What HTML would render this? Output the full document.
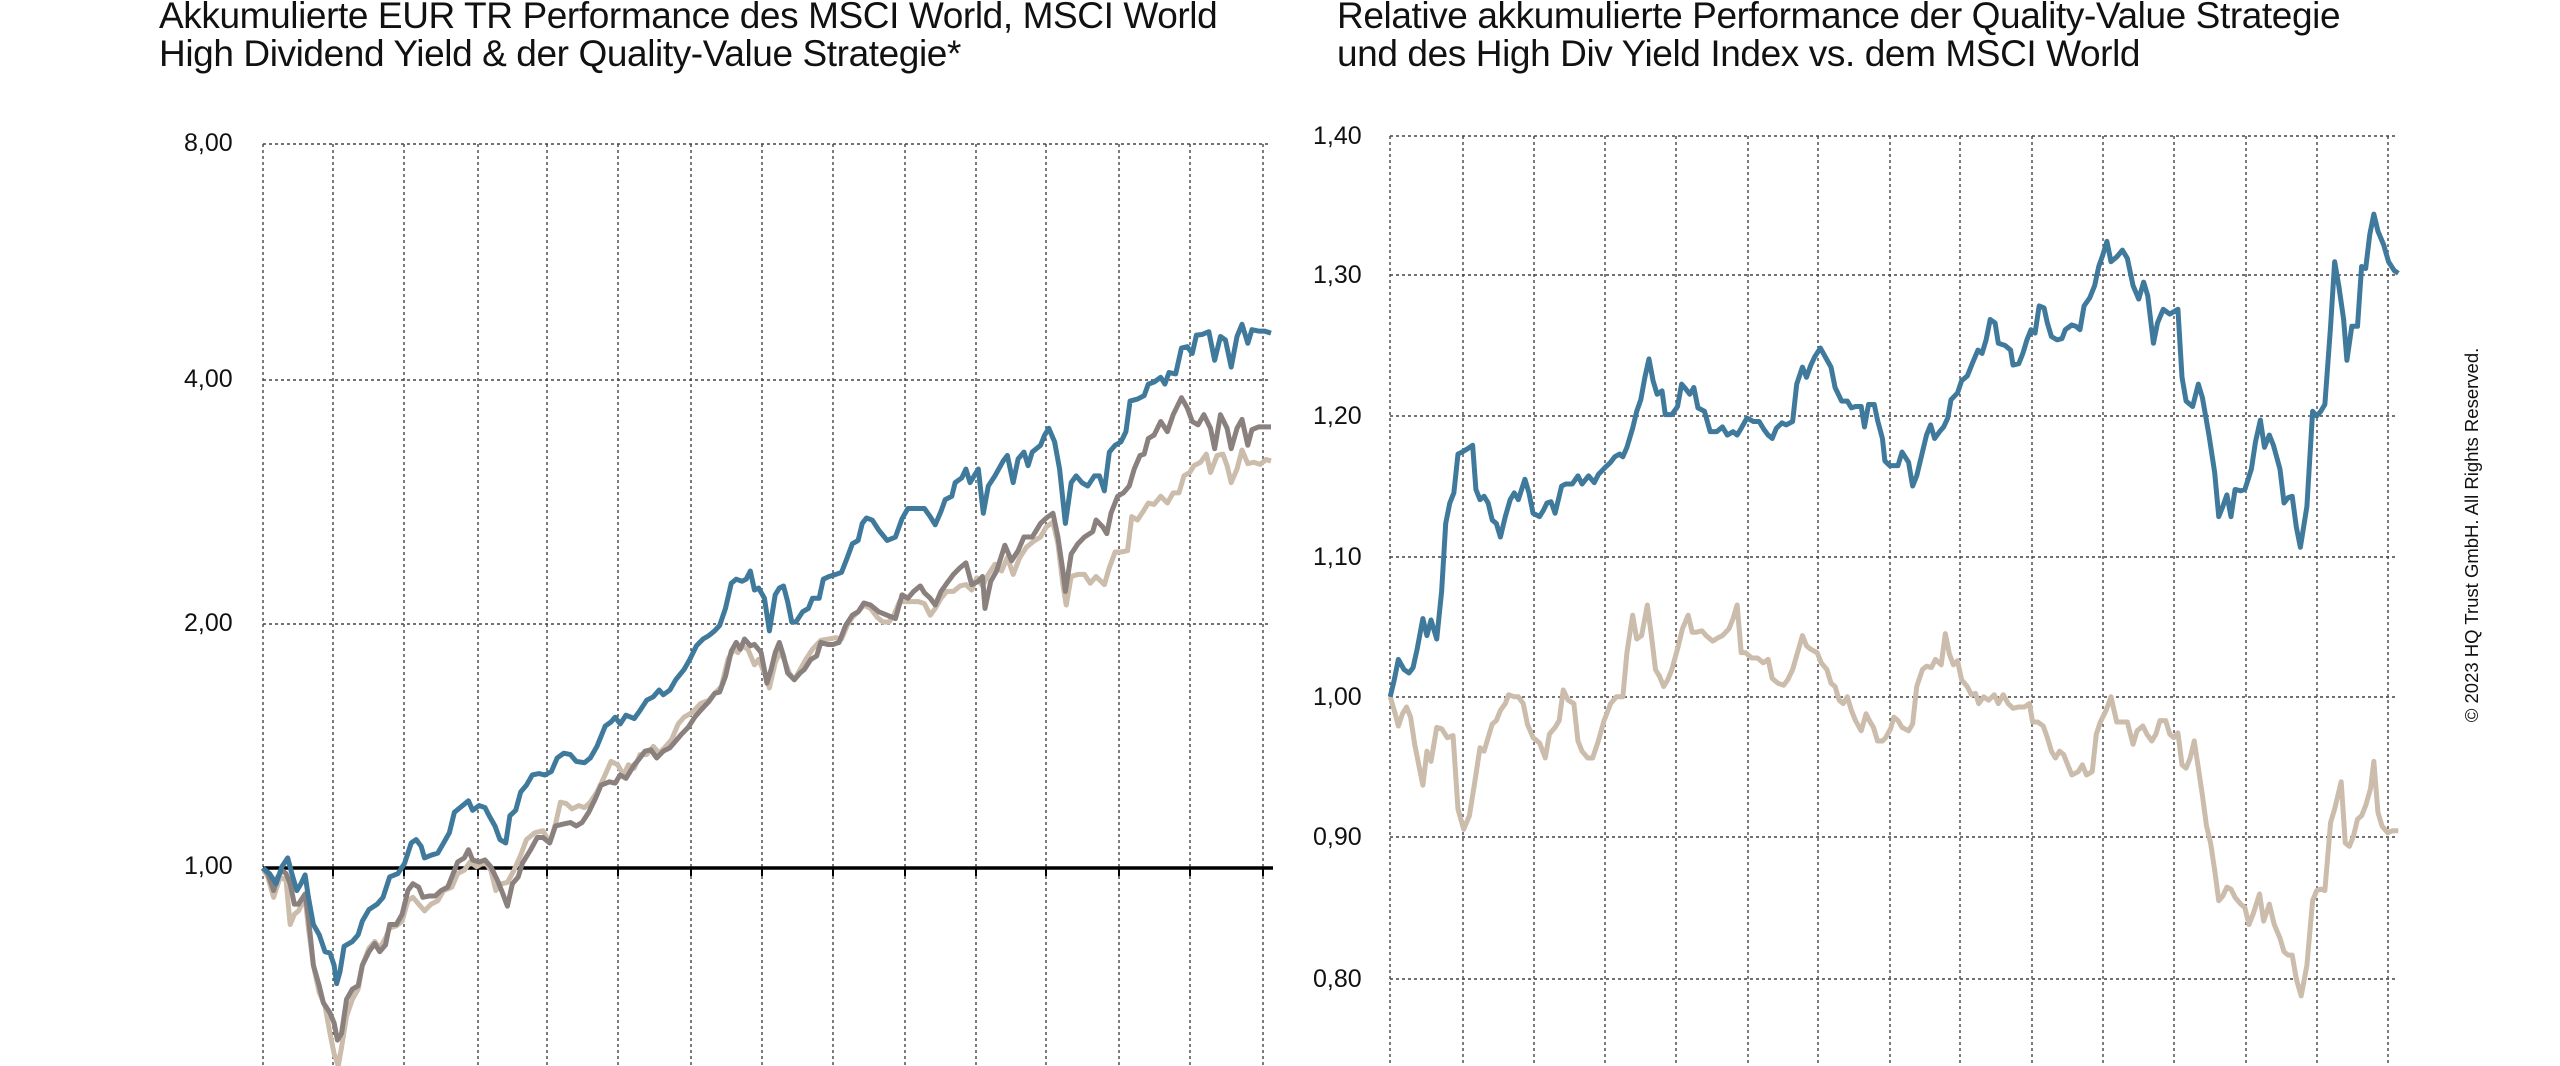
<!DOCTYPE html>
<html><head><meta charset="utf-8"><style>
html,body{margin:0;padding:0;background:#fff;}
body{width:2560px;height:1066px;overflow:hidden;position:relative;font-family:"Liberation Sans",Arial,sans-serif;}
.t{position:absolute;font-size:37px;line-height:38px;color:#111;letter-spacing:-0.4px;}
.l{position:absolute;font-size:25px;color:#111;}
</style></head><body>
<div class="t" style="left:159px;top:-3px;">Akkumulierte EUR TR Performance des MSCI World, MSCI World<br>High Dividend Yield &amp; der Quality-Value Strategie*</div>
<div class="t" style="left:1337px;top:-3px;">Relative akkumulierte Performance der Quality-Value Strategie<br>und des High Div Yield Index vs. dem MSCI World</div>
<div class="l" style="left:184px;top:129px;">8,00</div>
<div class="l" style="left:184px;top:365px;">4,00</div>
<div class="l" style="left:184px;top:609px;">2,00</div>
<div class="l" style="left:184px;top:852px;">1,00</div>
<div class="l" style="left:1313px;top:122px;">1,40</div>
<div class="l" style="left:1313px;top:261px;">1,30</div>
<div class="l" style="left:1313px;top:402px;">1,20</div>
<div class="l" style="left:1313px;top:543px;">1,10</div>
<div class="l" style="left:1313px;top:683px;">1,00</div>
<div class="l" style="left:1313px;top:823px;">0,90</div>
<div class="l" style="left:1313px;top:965px;">0,80</div>
<div style="position:absolute;left:2472px;top:535px;width:0;height:0;">
<div style="position:absolute;transform:translate(-50%,-50%) rotate(-90deg);white-space:nowrap;font-size:18.5px;color:#111;">© 2023 HQ Trust GmbH. All Rights Reserved.</div></div>
<svg width="2560" height="1066" style="position:absolute;left:0;top:0;">
<g stroke="#444" stroke-width="1.4" stroke-dasharray="3,3" fill="none">
<path d="M263,144H1271M263,380H1271M263,624H1271"/>
<path d="M263,144V1066M333,144V1066M404,144V1066M478,144V1066M547,144V1066M618,144V1066M691,144V1066M762,144V1066M833,144V1066M905,144V1066M976,144V1066M1046,144V1066M1119,144V1066M1190,144V1066M1263,144V1066"/>
<path d="M1390,136H2398M1390,275H2398M1390,416H2398M1390,557H2398M1390,697H2398M1390,837H2398M1390,979H2398"/>
<path d="M1390,136V1066M1463,136V1066M1534,136V1066M1605,136V1066M1676,136V1066M1748,136V1066M1818,136V1066M1890,136V1066M1960,136V1066M2032,136V1066M2103,136V1066M2174,136V1066M2246,136V1066M2317,136V1066M2388,136V1066"/>
</g>
<path d="M263,868H1273" stroke="#000" stroke-width="3.5"/>
<g stroke="#000" stroke-width="2"><path d="M333,868v8M404,868v8M478,868v8M547,868v8M618,868v8M691,868v8M762,868v8M833,868v8M905,868v8M976,868v8M1046,868v8M1119,868v8M1190,868v8M1263,868v8"/></g>
<g transform="scale(0.8291,0.6798)" fill="none" stroke-width="5" stroke-linejoin="round">
<polyline vector-effect="non-scaling-stroke" stroke="#cbbcab" points="317,1277 323,1290 330,1320 338,1290 345,1295 350,1360 355,1345 360,1340 368,1320 372,1365 378,1420 385,1460 392,1480 398,1520 403,1550 408,1568 412,1540 418,1495 425,1470 432,1455 437,1420 445,1395 452,1385 458,1395 465,1380 470,1365 478,1362 485,1355 492,1325 498,1320 505,1330 512,1340 520,1330 528,1325 535,1310 545,1305 552,1285 560,1280 567,1268 575,1275 585,1268 592,1280 598,1310 605,1300 612,1298 620,1280 628,1258 635,1235 645,1225 655,1222 663,1240 670,1212 676,1180 683,1182 690,1190 698,1185 705,1188 712,1180 720,1165 728,1145 737,1120 745,1125 752,1140 758,1125 765,1130 772,1110 780,1110 788,1098 795,1108 803,1098 810,1088 818,1065 825,1055 835,1048 845,1035 855,1030 862,1020 870,1010 878,970 885,955 890,960 895,950 902,955 910,978 915,970 922,990 928,1012 935,975 940,960 945,968 952,990 958,1000 965,985 972,970 980,955 990,942 1000,940 1008,938 1015,940 1022,920 1028,908 1035,900 1042,890 1050,895 1058,908 1065,915 1072,915 1078,905 1085,885 1092,885 1100,885 1108,885 1115,888 1122,905 1128,895 1135,880 1142,870 1150,870 1158,862 1165,860 1172,868 1178,850 1185,862 1192,845 1200,830 1208,840 1215,820 1222,845 1230,820 1238,805 1248,795 1255,790 1262,775 1270,768 1276,800 1282,860 1286,890 1292,848 1300,845 1308,845 1315,858 1322,848 1332,860 1338,835 1345,812 1352,812 1360,810 1365,760 1372,765 1380,750 1385,740 1392,742 1400,730 1408,740 1415,725 1422,725 1428,700 1435,695 1440,685 1448,680 1455,668 1460,695 1468,670 1475,668 1480,685 1485,710 1492,690 1498,662 1505,682 1512,680 1520,683 1527,676 1533,678"/>
<polyline vector-effect="non-scaling-stroke" stroke="#8a807e" points="317,1277 323,1285 330,1310 335,1290 340,1280 345,1285 350,1300 355,1330 360,1330 368,1315 372,1350 378,1420 385,1450 390,1475 398,1490 403,1505 407,1530 412,1520 418,1470 425,1455 432,1450 437,1420 445,1400 452,1388 458,1400 465,1390 470,1360 478,1360 485,1345 492,1310 498,1300 505,1305 510,1320 518,1318 525,1318 532,1310 540,1305 545,1290 552,1268 560,1262 565,1250 570,1265 578,1268 585,1265 592,1275 600,1295 605,1310 612,1333 618,1300 625,1290 630,1270 640,1250 648,1232 655,1232 663,1240 670,1215 680,1212 688,1210 695,1215 702,1210 710,1195 718,1175 725,1155 735,1150 742,1152 748,1140 755,1145 765,1125 770,1118 778,1105 785,1103 792,1115 800,1105 808,1100 815,1090 822,1080 830,1070 838,1055 845,1045 855,1032 862,1020 868,1018 875,995 882,958 888,945 893,955 898,940 905,950 910,948 918,960 925,1005 930,985 935,960 940,945 945,965 950,990 958,1000 965,990 970,985 978,970 985,965 990,945 998,948 1005,948 1012,945 1020,920 1028,905 1035,900 1042,887 1050,890 1060,900 1070,905 1080,910 1088,875 1095,880 1102,870 1110,862 1115,872 1122,880 1128,890 1135,870 1142,858 1150,845 1158,835 1165,828 1172,860 1180,855 1185,848 1188,895 1195,855 1202,840 1212,802 1220,825 1228,810 1235,790 1245,790 1255,770 1262,762 1270,755 1276,790 1282,840 1285,870 1292,815 1300,800 1308,790 1318,782 1322,765 1330,775 1335,785 1340,755 1348,730 1355,725 1362,715 1368,690 1375,670 1380,668 1385,645 1392,640 1400,620 1408,635 1415,610 1425,585 1432,600 1438,620 1445,625 1452,610 1460,630 1465,660 1472,610 1480,630 1485,660 1492,630 1498,617 1505,655 1510,632 1518,628 1525,628 1533,628"/>
<polyline vector-effect="non-scaling-stroke" stroke="#3f7a9c" points="317,1277 325,1285 333,1300 340,1275 347,1262 352,1285 358,1310 363,1300 368,1287 372,1320 378,1360 385,1375 392,1400 398,1402 403,1420 406,1447 410,1430 415,1392 425,1385 432,1375 437,1355 445,1338 455,1330 462,1320 470,1290 480,1285 488,1270 496,1240 502,1235 508,1245 512,1262 520,1258 528,1255 535,1240 542,1225 548,1195 555,1188 565,1178 570,1192 578,1185 585,1188 590,1200 597,1215 603,1235 610,1240 615,1200 622,1192 628,1165 635,1155 642,1140 650,1138 657,1140 665,1135 672,1115 680,1108 688,1110 695,1120 705,1122 712,1115 720,1098 730,1068 737,1062 742,1055 748,1065 755,1052 765,1057 772,1045 780,1030 788,1025 795,1015 800,1022 808,1015 815,1000 825,985 832,970 840,950 848,940 855,935 862,928 868,920 875,895 882,858 888,852 895,855 900,852 905,840 910,868 915,865 922,880 928,928 935,875 940,865 945,862 950,885 955,915 960,915 968,900 975,895 980,880 988,880 993,852 1000,848 1008,845 1015,842 1022,820 1028,800 1035,795 1040,770 1045,762 1052,765 1060,780 1070,795 1080,790 1088,763 1095,748 1105,748 1115,748 1122,760 1128,772 1135,752 1140,735 1148,730 1152,710 1160,703 1165,690 1170,710 1175,700 1180,690 1186,755 1192,715 1200,700 1210,678 1215,670 1222,710 1228,675 1235,665 1240,685 1245,665 1255,655 1260,640 1265,630 1272,650 1278,690 1285,770 1292,710 1298,700 1305,710 1312,715 1320,700 1326,700 1332,722 1338,665 1345,655 1352,650 1358,635 1363,590 1372,587 1380,582 1385,565 1392,562 1400,555 1405,565 1410,548 1418,550 1425,512 1432,510 1438,520 1443,493 1450,492 1458,488 1465,530 1472,495 1478,500 1485,540 1492,495 1498,477 1505,505 1510,485 1518,487 1525,487 1533,490"/>
</g>
<g transform="translate(1280,0) scale(0.8163,0.6798)" fill="none" stroke-width="5" stroke-linejoin="round">
<polyline vector-effect="non-scaling-stroke" stroke="#cbbcab" points="135,1025 140,1045 145,1068 150,1050 155,1040 160,1055 165,1095 170,1125 175,1155 180,1105 185,1120 192,1070 198,1072 205,1085 212,1082 218,1190 225,1220 232,1200 238,1155 245,1100 250,1105 255,1085 260,1065 265,1060 270,1045 276,1035 280,1022 287,1025 292,1025 298,1035 303,1065 310,1085 318,1093 325,1115 330,1080 337,1070 342,1060 347,1015 353,1030 360,1035 365,1090 370,1105 377,1115 383,1115 390,1090 397,1060 405,1035 412,1025 420,1025 425,960 432,905 437,940 443,935 450,890 455,935 460,985 465,995 470,1010 475,1000 480,985 488,950 493,925 500,905 505,930 510,930 517,928 522,935 530,943 537,938 542,935 550,925 555,910 560,890 565,960 570,960 578,968 585,968 592,975 598,970 603,998 610,1005 617,1008 622,1000 628,985 634,960 640,935 645,950 650,955 658,960 663,975 670,985 675,1005 680,1010 685,1030 690,1035 695,1025 700,1045 705,1060 712,1075 718,1050 722,1060 727,1070 732,1090 738,1090 742,1085 748,1072 752,1055 757,1060 762,1070 770,1075 775,1065 780,1010 787,985 792,980 798,982 803,970 810,978 815,932 820,962 825,978 830,972 835,1000 842,1010 847,1022 852,1020 856,1035 862,1025 868,1030 875,1022 880,1035 886,1022 892,1035 898,1042 905,1040 912,1040 918,1035 922,1062 928,1062 935,1068 940,1085 945,1105 950,1115 955,1105 960,1110 965,1125 970,1140 978,1135 983,1125 988,1140 995,1135 1000,1080 1005,1062 1012,1045 1018,1025 1025,1062 1032,1062 1038,1062 1045,1095 1050,1075 1057,1068 1062,1080 1068,1090 1073,1080 1078,1060 1085,1060 1090,1080 1095,1085 1100,1078 1105,1125 1110,1130 1115,1115 1120,1090 1125,1130 1130,1170 1135,1215 1140,1240 1145,1280 1150,1325 1155,1318 1160,1305 1165,1308 1170,1320 1177,1330 1182,1335 1187,1360 1192,1345 1200,1315 1205,1355 1212,1330 1218,1360 1225,1380 1230,1400 1235,1405 1240,1405 1245,1440 1251,1465 1258,1420 1265,1325 1270,1310 1275,1308 1280,1310 1287,1210 1292,1190 1300,1150 1305,1240 1310,1245 1315,1230 1320,1205 1325,1200 1330,1185 1336,1160 1340,1120 1345,1195 1350,1215 1357,1225 1363,1222 1370,1222"/>
<polyline vector-effect="non-scaling-stroke" stroke="#3f7a9c" points="135,1025 140,1000 145,970 152,985 158,990 163,982 168,955 175,910 180,935 185,912 192,940 198,870 203,770 208,740 213,725 218,668 223,665 230,660 236,655 240,720 245,735 250,730 255,740 260,765 265,770 270,790 276,760 282,735 287,725 292,735 300,705 305,725 310,755 318,760 323,750 327,740 332,738 337,755 345,715 350,712 358,712 365,700 370,712 378,700 385,710 390,698 398,688 405,680 410,672 416,668 420,672 425,658 432,630 437,605 442,588 447,555 452,528 457,560 462,580 468,575 472,610 480,610 487,598 492,565 497,572 502,580 507,570 512,600 520,605 527,635 535,635 542,628 548,640 555,635 560,640 565,630 572,615 580,620 587,620 593,632 598,640 603,645 608,630 615,622 620,625 628,620 633,565 640,540 645,555 650,538 655,525 662,512 668,525 675,540 680,570 688,590 695,590 700,600 705,598 712,598 716,628 721,595 728,595 732,618 738,645 741,678 747,685 752,685 757,685 762,665 770,680 775,715 780,700 787,665 792,640 797,625 802,645 808,635 813,628 818,615 822,588 830,578 835,560 842,553 848,535 855,515 860,520 865,500 870,470 876,475 880,505 888,508 895,515 898,537 905,535 910,520 915,500 920,485 925,490 930,450 936,453 940,475 945,495 952,500 958,498 962,485 970,478 975,480 980,485 985,450 992,438 998,420 1003,392 1008,375 1013,355 1018,385 1025,378 1032,368 1038,380 1045,420 1052,440 1058,415 1063,435 1070,505 1075,475 1082,455 1090,462 1100,455 1105,555 1110,590 1118,598 1125,565 1130,585 1138,640 1145,695 1150,760 1155,745 1160,728 1165,760 1170,720 1177,722 1182,720 1190,690 1195,650 1201,618 1206,658 1212,640 1217,655 1225,690 1230,740 1235,732 1240,730 1245,775 1250,805 1258,745 1265,605 1270,612 1275,605 1280,595 1287,480 1292,385 1297,420 1303,470 1307,530 1313,480 1320,480 1325,392 1330,395 1335,345 1340,315 1345,340 1352,360 1358,385 1365,398 1370,402"/>
</g>
</svg>
</body></html>
